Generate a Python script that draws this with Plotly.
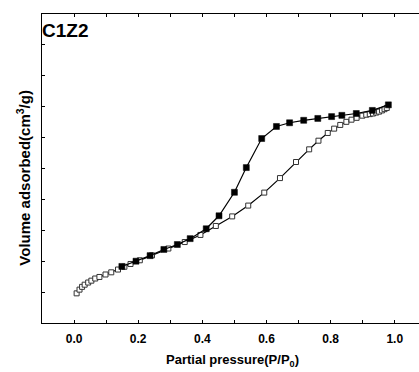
import plotly.graph_objects as go

# Adsorption branch (open squares)
ads_x = [0.008, 0.017, 0.025, 0.033, 0.044, 0.054, 0.066, 0.079, 0.098, 0.116,
         0.137, 0.157, 0.176, 0.205, 0.243, 0.294, 0.345, 0.394, 0.442, 0.493,
         0.543, 0.593, 0.642, 0.692, 0.733, 0.762, 0.791, 0.811, 0.830, 0.849,
         0.865, 0.881, 0.899, 0.911, 0.922, 0.932, 0.942, 0.951, 0.960, 0.968, 0.975]
ads_y = [0.96, 1.08, 1.17, 1.24, 1.31, 1.37, 1.44, 1.49, 1.57, 1.64,
         1.73, 1.82, 1.91, 2.03, 2.19, 2.41, 2.62, 2.85, 3.14, 3.45,
         3.80, 4.22, 4.69, 5.21, 5.62, 5.90, 6.15, 6.29, 6.41, 6.51,
         6.58, 6.64, 6.71, 6.74, 6.76, 6.78, 6.81, 6.84, 6.88, 6.92, 6.96]

# Desorption branch (filled squares)
des_x = [0.980, 0.930, 0.880, 0.835, 0.803, 0.760, 0.716, 0.672, 0.631, 0.585,
         0.537, 0.500, 0.452, 0.412, 0.362, 0.322, 0.280, 0.237, 0.193, 0.149]
des_y = [7.06, 6.88, 6.78, 6.72, 6.68, 6.62, 6.56, 6.48, 6.36, 5.97,
         5.03, 4.23, 3.47, 3.05, 2.73, 2.54, 2.38, 2.18, 2.00, 1.83]

x_ticks = [0.0, 0.2, 0.4, 0.6, 0.8, 1.0]
x_tick_labels = ["0.0", "0.2", "0.4", "0.6", "0.8", "1.0"]

FONT = "Liberation Sans, Arial, sans-serif"

fig = go.Figure()
fig.add_trace(go.Scatter(
    x=ads_x, y=ads_y, mode="lines+markers",
    line=dict(color="black", width=1.2),
    marker=dict(symbol="square", size=5, color="white",
                line=dict(color="#333333", width=1)),
    showlegend=False))
fig.add_trace(go.Scatter(
    x=des_x, y=des_y, mode="lines+markers",
    line=dict(color="black", width=1.2),
    marker=dict(symbol="square", size=6, color="black",
                line=dict(color="black", width=0.5)),
    showlegend=False))

fig.update_layout(
    width=419, height=372,
    margin=dict(l=42, r=0, t=14, b=49),
    paper_bgcolor="white", plot_bgcolor="white",
    font=dict(family=FONT, color="black"),
    xaxis=dict(range=[-0.1, 1.0755], tickvals=x_ticks, ticktext=x_tick_labels,
               showgrid=False, zeroline=False, showline=True, linecolor="black",
               linewidth=1, mirror="allticks", ticks="inside", ticklen=3,
               tickcolor="black", ticklabelstandoff=5,
               minor=dict(dtick=0.1, tick0=0, ticks="inside", ticklen=3,
                          tickcolor="black", showgrid=False),
               tickfont=dict(family=FONT, size=12, color="black", weight="bold")),
    yaxis=dict(range=[0, 10], dtick=1, tick0=0, showticklabels=False,
               showgrid=False, zeroline=False, showline=True, linecolor="black",
               linewidth=1, ticks="inside", ticklen=3, tickcolor="black"),
)

fig.add_annotation(text="<b>C1Z2</b>", xref="paper", yref="paper",
                   x=0.0, y=1.0, xanchor="left", yanchor="top", showarrow=False,
                   xshift=-2, yshift=-4,
                   font=dict(family=FONT, size=19, color="black"))
fig.add_annotation(text="<b>Partial pressure(P/P<sub>0</sub>)</b>", xref="paper", yref="paper",
                   x=0.505, y=-0.12, xanchor="center", yanchor="middle", showarrow=False,
                   font=dict(family=FONT, size=13, color="black"))
fig.add_annotation(text="<b>Volume adsorbed(cm<sup>3</sup>/g)</b>", xref="paper", yref="paper",
                   x=-0.048, y=0.47, xanchor="center", yanchor="middle", showarrow=False,
                   textangle=-90,
                   font=dict(family=FONT, size=15, color="black"))

fig.write_html("out.html")
